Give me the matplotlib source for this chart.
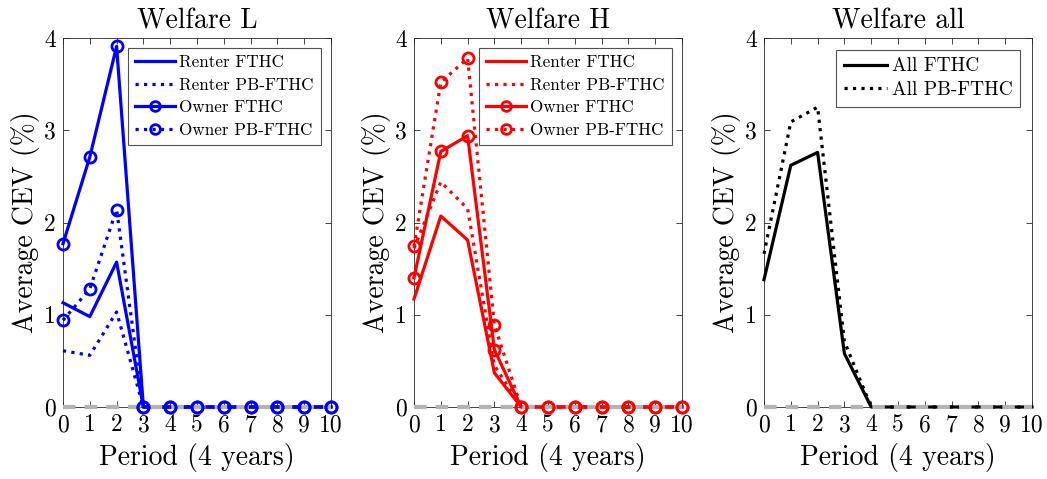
import matplotlib
matplotlib.use("Agg")
import matplotlib.pyplot as plt
import numpy as np

plt.rcParams['font.family'] = ['cmr10', 'DejaVu Serif']
plt.rcParams['mathtext.fontset'] = 'cm'
plt.rcParams['axes.unicode_minus'] = False

periods = list(range(11))

# Welfare L (blue)
L_renter_fthc = [1.13, 0.98, 1.57, 0, 0, 0, 0, 0, 0, 0, 0]
L_renter_pb = [0.61, 0.56, 1.03, 0, 0, 0, 0, 0, 0, 0, 0]
L_owner_fthc = [1.77, 2.71, 3.91, 0, 0, 0, 0, 0, 0, 0, 0]
L_owner_pb = [0.94, 1.28, 2.14, 0, 0, 0, 0, 0, 0, 0, 0]
# Welfare H (red)
H_renter_fthc = [1.17, 2.07, 1.81, 0.37, 0, 0, 0, 0, 0, 0, 0]
H_renter_pb = [1.72, 2.44, 2.15, 0.45, 0, 0, 0, 0, 0, 0, 0]
H_owner_fthc = [1.40, 2.77, 2.94, 0.62, 0, 0, 0, 0, 0, 0, 0]
H_owner_pb = [1.74, 3.52, 3.78, 0.89, 0, 0, 0, 0, 0, 0, 0]
# Welfare all (black)
A_fthc = [1.38, 2.62, 2.76, 0.58, 0, 0, 0, 0, 0, 0, 0]
A_pb = [1.66, 3.09, 3.25, 0.71, 0, 0, 0, 0, 0, 0, 0]

titles = ["Welfare L", "Welfare H", "Welfare all"]
xlabel = "Period (4 years)"
ylabel = "Average CEV (%)"
labels4 = ["Renter FTHC", "Renter PB-FTHC", "Owner FTHC", "Owner PB-FTHC"]
labels2 = ["All FTHC", "All PB-FTHC"]

W, H = 1047, 479
fig = plt.figure(figsize=(W / 100, H / 100), dpi=100)
axcol = (0.15, 0.15, 0.15)
lw = 2.3
ms = 8
lefts = [63, 414, 764]
axes = []
for l in lefts:
    ax = fig.add_axes([l / W, 1 - 407 / H, 268 / W, 369 / H])
    axes.append(ax)

def style(ax, title):
    ax.set_xlim(0, 10)
    ax.set_ylim(0, 4)
    ax.set_xticks(periods)
    ax.set_yticks([0, 1, 2, 3, 4])
    ax.tick_params(direction='in', top=True, right=True, labelsize=17,
                   colors=axcol, labelcolor='black', length=4, width=0.6, pad=5)
    for s in ax.spines.values():
        s.set_color(axcol)
        s.set_linewidth(0.6)
    ax.set_title(title, fontsize=20, pad=7)
    ax.set_xlabel(xlabel, fontsize=20, labelpad=5)
    ax.set_ylabel(ylabel, fontsize=20, labelpad=3)

def zero_line(ax):
    ax.plot(periods, [0] * len(periods), color=(0.7, 0.7, 0.7), lw=3,
            linestyle=(0, (3, 2.2)), zorder=4, clip_on=False)

def legend(ax, handles, labels, fs, hl, ls):
    leg = ax.legend(handles, labels, loc='upper right', fontsize=fs, frameon=True,
                    fancybox=False, edgecolor=axcol, handlelength=hl,
                    handletextpad=0.25, borderpad=0.4, labelspacing=ls,
                    borderaxespad=0.6)
    leg.get_frame().set_linewidth(0.8)

for ax, col, rf, rp, of, op in [
        (axes[0], 'blue', L_renter_fthc, L_renter_pb, L_owner_fthc, L_owner_pb),
        (axes[1], 'red', H_renter_fthc, H_renter_pb, H_owner_fthc, H_owner_pb)]:
    ax.plot(periods, rf, color=col, lw=lw, ls='-', zorder=3, clip_on=False)
    ax.plot(periods, rp, color=col, lw=lw, ls=':', zorder=3, clip_on=False)
    ax.plot(periods, of, color=col, lw=lw, ls='-', zorder=3, clip_on=False)
    ax.plot(periods, op, color=col, lw=lw, ls=':', zorder=3, clip_on=False)
    zero_line(ax)
    ax.plot(periods, of, color=col, ls='none', marker='o', ms=ms, mfc='none',
            mew=2, zorder=5, clip_on=False)
    ax.plot(periods, op, color=col, ls='none', marker='o', ms=ms, mfc='none',
            mew=2, zorder=5, clip_on=False)
    h = [plt.Line2D([], [], color=col, lw=lw, ls='-'),
         plt.Line2D([], [], color=col, lw=lw, ls=':'),
         plt.Line2D([], [], color=col, lw=lw, ls='-', marker='o', ms=ms - 1, mfc='none', mew=2),
         plt.Line2D([], [], color=col, lw=lw, ls=':', marker='o', ms=ms - 1, mfc='none', mew=2)]
    legend(ax, h, labels4, 12.3, 2.35, 0.42)

ax = axes[2]
ax.plot(periods, A_fthc, color='black', lw=lw, ls='-', zorder=3, clip_on=False)
ax.plot(periods, A_pb, color='black', lw=lw, ls=':', zorder=3, clip_on=False)
zero_line(ax)
h = [plt.Line2D([], [], color='black', lw=lw, ls='-'),
     plt.Line2D([], [], color='black', lw=lw, ls=':')]
legend(ax, h, labels2, 14, 2.2, 0.3)

for ax, t in zip(axes, titles):
    style(ax, t)

fig.savefig("out.png", dpi=100)
